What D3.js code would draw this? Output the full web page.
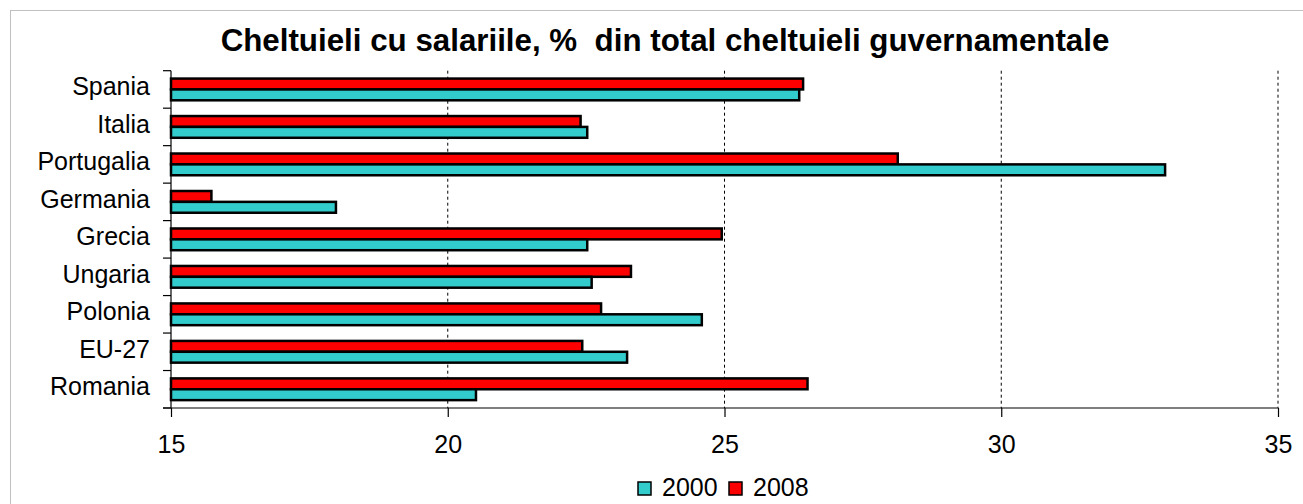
<!DOCTYPE html>
<meta charset="utf-8">
<style>
body { margin: 0; background: #fff; }
svg { display: block; font-family: Arial, "Liberation Sans", sans-serif; }
.grid line { stroke: #000; stroke-dasharray: 3,3; }
.axis path, .axis line { stroke: #000; stroke-width: 1.2; }
.axis text { font-size: 25px; fill: #000; }
</style>
<svg width="1303" height="504"></svg>
<script src="https://cdnjs.cloudflare.com/ajax/libs/d3/7.8.5/d3.min.js"></script>
<script>
var countries = ["Spania", "Italia", "Portugalia", "Germania", "Grecia", "Ungaria", "Polonia", "EU-27", "Romania"];
var years = ["2008", "2000"];
var v2000 = [26.35, 22.52, 32.96, 17.98, 22.52, 22.60, 24.59, 23.24, 20.51];
var v2008 = [26.42, 22.40, 28.13, 15.73, 24.95, 23.31, 22.77, 22.43, 26.50];
var xTicks = [15, 20, 25, 30, 35];
var colors = { "2000": "#33cccc", "2008": "#ff0000" };

var svg = d3.select("svg");

// chart area border
svg.append("rect")
    .attr("x", 10.5).attr("y", 10.5)
    .attr("width", 1400).attr("height", 600)
    .attr("fill", "none").attr("stroke", "#c0c0c0");

svg.append("text")
    .attr("x", 665).attr("y", 51)
    .attr("text-anchor", "middle")
    .style("font-size", "31.3px").style("font-weight", "bold")
    .text("Cheltuieli cu salariile, %\u00a0 din total cheltuieli guvernamentale");

var x = d3.scaleLinear().domain([15, 35]).range([171, 1278]);

var y = d3.scaleBand()
    .domain(countries)
    .range([70.7, 408])
    .paddingInner(0.42)
    .paddingOuter(0.21);

var y1 = d3.scaleBand().domain(years).range([0, y.bandwidth()]);

// dotted gridlines
svg.append("g").attr("class", "grid")
  .selectAll("line")
    .data(xTicks.slice(1))
  .enter().append("line")
    .attr("x1", function(d) { return x(d); })
    .attr("x2", function(d) { return x(d); })
    .attr("y1", 70.7).attr("y2", 408);

var rows = countries.map(function(c, i) {
  return { name: c, vals: { "2000": v2000[i], "2008": v2008[i] } };
});

var groups = svg.append("g")
  .selectAll("g")
    .data(rows)
  .enter().append("g")
    .attr("transform", function(d) { return "translate(0," + y(d.name) + ")"; });

groups.selectAll("rect")
    .data(function(d) { return years.map(function(k) { return { key: k, value: d.vals[k] }; }); })
  .enter().append("rect")
    .attr("x", x(15))
    .attr("y", function(d) { return y1(d.key); })
    .attr("width", function(d) { return x(d.value) - x(15); })
    .attr("height", y1.bandwidth())
    .attr("fill", function(d) { return colors[d.key]; })
    .attr("stroke", "#000")
    .attr("stroke-width", 2.5);

// axes
var yEdge = d3.scaleLinear().domain([0, countries.length]).range([70.7, 408]);
var left = svg.append("g").attr("class", "axis");
left.append("line").attr("x1", 171).attr("x2", 171).attr("y1", 70.7).attr("y2", 408);
left.selectAll(".tk")
    .data(d3.range(countries.length + 1))
  .enter().append("line")
    .attr("x1", 163).attr("x2", 171)
    .attr("y1", function(d) { return yEdge(d); })
    .attr("y2", function(d) { return yEdge(d); });
left.selectAll("text")
    .data(countries)
  .enter().append("text")
    .attr("x", 150)
    .attr("y", function(d) { return y(d) + y.bandwidth() / 2 + 6; })
    .attr("text-anchor", "end")
    .text(function(d) { return d; });

svg.append("g")
    .attr("class", "axis")
    .attr("transform", "translate(0,408)")
    .call(d3.axisBottom(x).tickValues(xTicks).tickSize(9).tickSizeOuter(0).tickPadding(18))
    .call(function(g) { g.select(".domain").attr("d", "M163,0H1278"); })
    .selectAll("text").style("font-size", "25px").attr("font-family", null);

// legend
var legend = svg.append("g");
var legendItems = [{ key: "2000", x: 638 }, { key: "2008", x: 729 }];
legend.selectAll("rect")
    .data(legendItems)
  .enter().append("rect")
    .attr("x", function(d) { return d.x; }).attr("y", 482)
    .attr("width", 13).attr("height", 13)
    .attr("fill", function(d) { return colors[d.key]; })
    .attr("stroke", "#000").attr("stroke-width", 1.5);
legend.selectAll("text")
    .data(legendItems)
  .enter().append("text")
    .attr("x", function(d) { return d.x + 24; }).attr("y", 496)
    .style("font-size", "25px")
    .text(function(d) { return d.key; });
</script>
